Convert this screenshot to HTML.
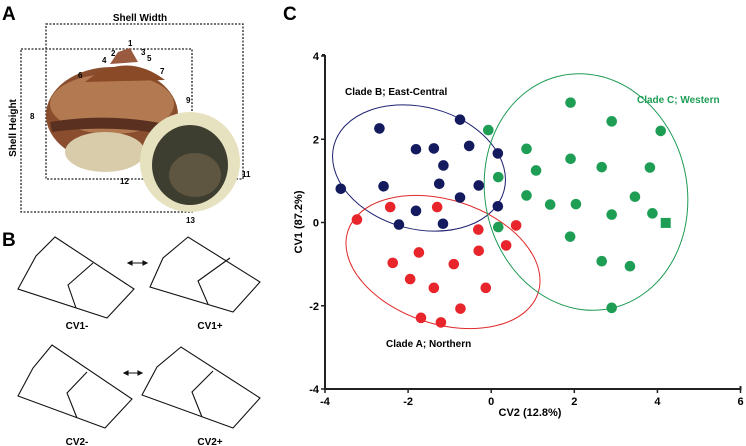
<!DOCTYPE html>
<html><head><meta charset="utf-8"><style>
html,body{margin:0;padding:0;background:#fff}
svg{display:block;font-family:"Liberation Sans",Arial,sans-serif}
</style></head><body>
<svg width="746" height="446" viewBox="0 0 746 446" xmlns="http://www.w3.org/2000/svg">
<g>
 <text x="2" y="20" font-size="19" font-weight="bold">A</text>
 <text x="140" y="21" font-size="10" font-weight="bold" text-anchor="middle">Shell Width</text>
 <text transform="translate(16,128) rotate(-90)" font-size="10" font-weight="bold" text-anchor="middle">Shell Height</text>
 <rect x="46" y="24" width="197" height="155" fill="none" stroke="#222" stroke-width="1.3" stroke-dasharray="2,1.5"/>
 <rect x="21" y="49" width="171" height="163" fill="none" stroke="#222" stroke-width="1.3" stroke-dasharray="2,1.5"/>
 <g>
  <ellipse cx="112" cy="115" rx="66" ry="48" fill="#8a4e2e"/>
  <ellipse cx="112" cy="104" rx="62" ry="30" fill="#b37a52"/>
  <path d="M85 82 Q125 50 165 80 Z" fill="#8a4a28"/>
  <path d="M118 52 L130 48 L138 62 L110 64 Z" fill="#9a5a40"/>
  <path d="M50 122 Q110 112 170 125 L168 135 Q110 124 52 132 Z" fill="#5a3020"/>
  <ellipse cx="105" cy="152" rx="40" ry="20" fill="#d8ccaa"/>
  <ellipse cx="190" cy="162" rx="50" ry="50" fill="#e6e2c0"/>
  <ellipse cx="190" cy="165" rx="38" ry="40" fill="#3e3e30"/>
  <ellipse cx="195" cy="175" rx="26" ry="22" fill="#5e5640"/>
 </g>
 <g font-size="8" font-weight="bold">
  <text x="128" y="46">1</text><text x="111" y="56">2</text><text x="141" y="55">3</text><text x="102" y="63">4</text><text x="147" y="61">5</text><text x="78" y="78">6</text><text x="160" y="74">7</text><text x="30" y="119">8</text><text x="186" y="103">9</text><text x="242" y="177">11</text><text x="120" y="184">12</text><text x="186" y="223">13</text>
 </g>
</g>
<g fill="none" stroke="#111" stroke-width="1.1">
 <text x="2" y="246" font-size="19" font-weight="bold" fill="#000" stroke="none">B</text>
 <g><polygon points="18,289 36,256 55,237 134,289 107,318"/><polyline points="93,263 68,285 76,308"/></g>
 <g><polygon points="150,287 163,258 188,237 260,282 233,312"/><polyline points="230,258 198,281 208,304"/></g>
 <g><polygon points="18,396 33,368 52,345 132,399 105,428"/><polyline points="87,372 67,393 77,418"/></g>
 <g><polygon points="142,395 157,367 181,347 260,398 233,428"/><polyline points="213,371 192,392 202,417"/></g>
 <g><line x1="128" y1="263" x2="147" y2="263"/><path d="M128 263 l4 -2 v4 z M147 263 l-4 -2 v4 z" fill="#111"/></g>
 <g><line x1="124" y1="373" x2="142" y2="373"/><path d="M124 373 l4 -2 v4 z M142 373 l-4 -2 v4 z" fill="#111"/></g>
 <g stroke="none" fill="#000" font-size="10" font-weight="bold" text-anchor="middle">
  <text x="77" y="329">CV1-</text>
  <text x="210" y="329">CV1+</text>
  <text x="77" y="445">CV2-</text>
  <text x="210" y="445">CV2+</text>
 </g>
</g>
<g id="chart">
 <text x="283" y="20" font-size="19" font-weight="bold">C</text>
</g>
<script>
const xTicks=[-4,-2,0,2,4,6];
const yTicks=[-4,-2,0,2,4];
const cladeBx=[-2.69,-0.75,-1.81,-1.38,-0.53,0.16,-1.15,-3.62,-2.59,-1.25,-0.30,-0.75,0.16,-1.81,-2.22,-1.16];
const cladeBy=[2.26,2.47,1.76,1.78,1.84,1.66,1.37,0.81,0.87,0.93,0.89,0.60,0.39,0.28,-0.05,-0.03];
const cladeAx=[-2.43,-1.30,-3.23,-0.31,0.60,0.36,-1.74,-0.30,-2.37,-0.90,-1.95,-1.38,-0.13,-0.74,-1.69,-1.21];
const cladeAy=[0.37,0.37,0.07,-0.17,-0.07,-0.55,-0.72,-0.68,-0.97,-1.00,-1.36,-1.57,-1.57,-2.07,-2.29,-2.40];
const cladeCx=[-0.07,0.85,1.08,0.17,0.85,0.17,1.91,2.90,4.08,1.91,2.66,3.82,1.42,2.04,3.46,2.90,3.88,1.90,2.66,3.34,2.90];
const cladeCy=[2.22,1.77,1.25,1.09,0.65,-0.11,2.88,2.43,2.20,1.53,1.33,1.32,0.43,0.44,0.62,0.19,0.22,-0.34,-0.93,-1.05,-2.05];
const squareX=[4.20];
const squareY=[-0.01];
const NS="http://www.w3.org/2000/svg";
const g=document.getElementById('chart');
const X0=325,X1=740.5,Y0=389,Y1=56;
const sx=v=>X0+(v-(-4))*(X1-X0)/10;
const sy=v=>Y0-(v-(-4))*(Y0-Y1)/8;
function mk(t,a,p){const e=document.createElementNS(NS,t);for(const k in a)e.setAttribute(k,a[k]);(p||g).appendChild(e);return e;}
let e;
e=mk('ellipse',{cx:419,cy:168,rx:88,ry:61,transform:'rotate(15 419 168)',fill:'none',stroke:'#1a1f6e','stroke-width':1});


e=mk('ellipse',{cx:443,cy:262,rx:100,ry:62,transform:'rotate(18 443 262)',fill:'none',stroke:'#e02a2a','stroke-width':1});


e=mk('ellipse',{cx:586,cy:192,rx:101,ry:119,transform:'rotate(-12 586 192)',fill:'none',stroke:'#1e9a55','stroke-width':1});


e=mk('path',{d:`M${X0} ${Y1-1} h-3 M${X0} ${Y1-1} V${Y0} H${X1} v-3`,fill:'none',stroke:'#222','stroke-width':2});


xTicks.forEach(v=>{
 const l=mk('line',{x1:sx(v),x2:sx(v),y1:Y0,y2:Y0+4,stroke:'#222','stroke-width':1.5});
 
 
 const t=mk('text',{x:sx(v),y:Y0+16,'font-size':11,'font-weight':'bold','text-anchor':'middle'});
 t.textContent=v;
 
 
});
yTicks.forEach(v=>{
 const l=mk('line',{x1:X0-4,x2:X0,y1:sy(v),y2:sy(v),stroke:'#222','stroke-width':1.5});
 
 
 const t=mk('text',{x:X0-6,y:sy(v)+4,'font-size':11,'font-weight':'bold','text-anchor':'end'});
 t.textContent=v;
 
 
});
let t=mk('text',{x:530,y:416,'font-size':11,'font-weight':'bold','text-anchor':'middle'});
t.textContent='CV2 (12.8%)';


t=mk('text',{transform:'translate(302,222) rotate(-90)','font-size':11,'font-weight':'bold','text-anchor':'middle'});
t.textContent='CV1 (87.2%)';


function pts(xs,ys,col,name){xs.forEach((x,i)=>{const c=mk('circle',{cx:sx(x),cy:sy(ys[i]),r:5.3,fill:col});
 
 });}
pts(cladeCx,cladeCy,'#1e9e55','clade-c-point');
pts(cladeBx,cladeBy,'#131a5e','clade-b-point');
pts(cladeAx,cladeAy,'#e8252b','clade-a-point');
squareX.forEach((x,i)=>{const r=mk('rect',{x:sx(x)-5,y:sy(squareY[i])-5,width:10,height:10,fill:'#1e9e55'});
 
 });
t=mk('text',{x:345,y:95,'font-size':10,'font-weight':'bold'});
t.textContent='Clade B; East-Central';


t=mk('text',{x:386,y:347,'font-size':10,'font-weight':'bold'});
t.textContent='Clade A; Northern';


t=mk('text',{x:637,y:103,'font-size':10,'font-weight':'bold',fill:'#1e9e55'});
t.textContent='Clade C; Western';


</script>
</body></html>
